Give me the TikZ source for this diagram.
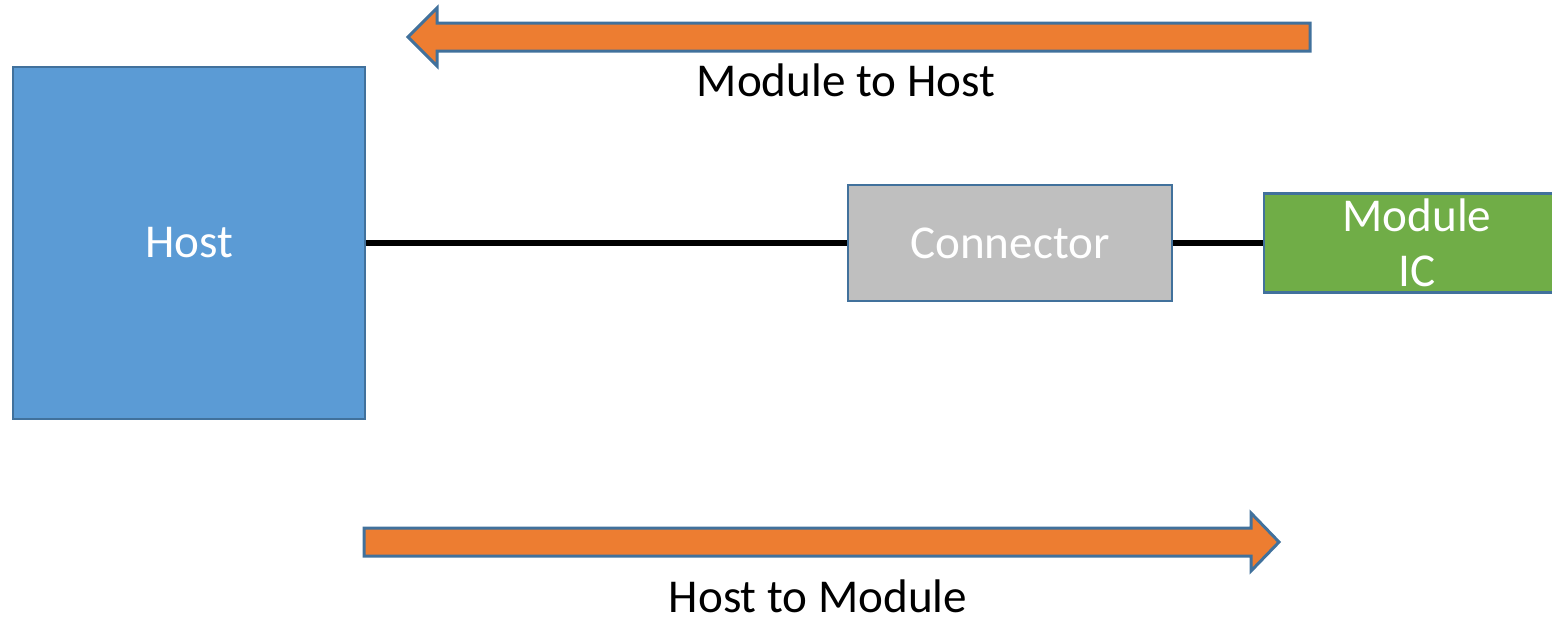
\documentclass[tikz,border=0pt]{standalone}
\usepackage{fontspec}
\setmainfont{Carlito}
\usetikzlibrary{arrows.meta,positioning}
\definecolor{hostblue}{HTML}{5B9BD5}
\definecolor{edgeblue}{HTML}{41719C}
\definecolor{flowor}{HTML}{ED7D31}
\definecolor{modgreen}{HTML}{70AD47}
\definecolor{conngray}{HTML}{BFBFBF}
\tikzset{
  blockbox/.style={draw=edgeblue, line width=0.6pt, align=center, inner sep=0pt,
    text=white, font=\fontsize{13.4}{15.6}\selectfont},
  hostbox/.style={blockbox, fill=hostblue, minimum width=3.52cm, minimum height=3.52cm},
  connbox/.style={blockbox, fill=conngray, minimum width=3.24cm, minimum height=1.16cm},
  modbox/.style={blockbox, fill=modgreen, minimum width=3.06cm, minimum height=0.99cm},
  wire/.style={line width=1.8pt, draw=black},
  flowarrow/.style={fill=flowor, draw=edgeblue, line width=0.85pt, line join=miter},
  flowlabel/.style={font=\fontsize{13.4}{15.6}\selectfont, inner sep=0pt}
}
\begin{document}
\begin{tikzpicture}[x=0.01cm, y=-0.01cm]
    \useasboundingbox (0,0) rectangle (1552,620);
    \node[hostbox] (host) at (189,243) {Host};
    \node[connbox] (conn) at (1010,243) {Connector};
    \node[modbox] (module) at (1417,243) {Module\\IC};
    \draw[wire] (host.east) -- (conn.west);
    \draw[wire] (conn.east) -- (module.west);
    % module to host
    \filldraw[flowarrow] (1310,23) -- (437,23) -- (437,8) -- (408,37) -- (437,66) -- (437,51) -- (1310,51) -- cycle;
    \node[flowlabel] (up) at (846,80) {Module to Host};
    % host to module
    \filldraw[flowarrow] (364,528) -- (1251,528) -- (1251,513) -- (1279,542) -- (1251,571) -- (1251,556) -- (364,556) -- cycle;
    \node[flowlabel] (down) at (818,596) {Host to Module};
  \end{tikzpicture}
\end{document}
